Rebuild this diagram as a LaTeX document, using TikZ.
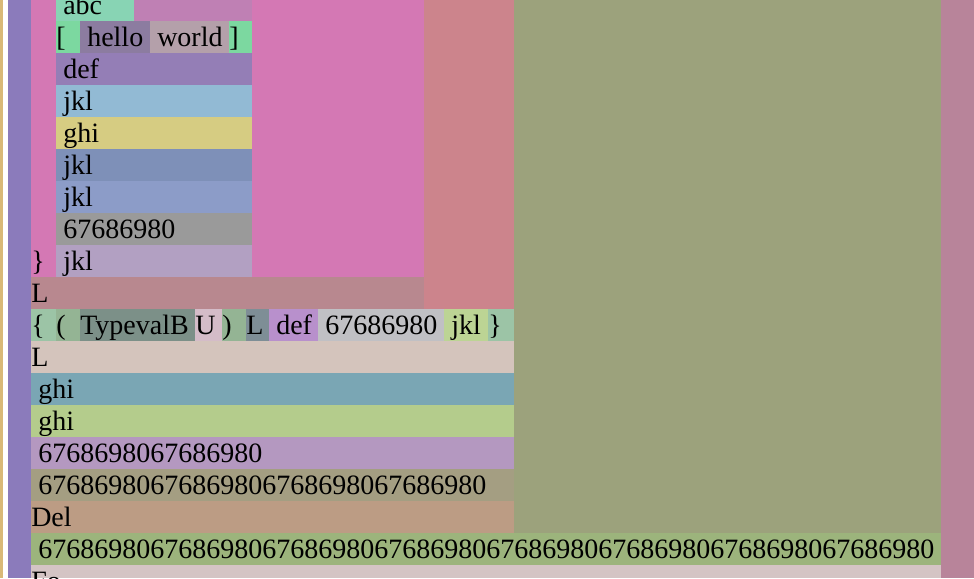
\documentclass[tikz,border=0pt]{standalone}
\usepackage{fontspec}
\setmainfont{Liberation Serif}
\usepackage{tikz}
\definecolor{Sand}{HTML}{D9B978}
\definecolor{Lilac}{HTML}{8B7BBB}
\definecolor{Pink}{HTML}{D478B4}
\definecolor{Rose}{HTML}{CC848C}
\definecolor{Olive}{HTML}{9CA27C}
\definecolor{Mauve}{HTML}{B8849A}
\definecolor{Mint}{HTML}{88D4B4}
\definecolor{Orchid}{HTML}{BF80B4}
\definecolor{Jade}{HTML}{7CD8A0}
\definecolor{Grape}{HTML}{8C7CA0}
\definecolor{Taupe}{HTML}{B4A0AA}
\definecolor{Violet}{HTML}{947EB6}
\definecolor{Sky}{HTML}{92BAD4}
\definecolor{Straw}{HTML}{D6CC82}
\definecolor{Steel}{HTML}{7E90B8}
\definecolor{Periwinkle}{HTML}{8C9CC8}
\definecolor{Ash}{HTML}{9A9A9A}
\definecolor{Wisteria}{HTML}{B2A0C2}
\definecolor{Dusk}{HTML}{B8888F}
\definecolor{Sage}{HTML}{9CC4A6}
\definecolor{Fern}{HTML}{94B494}
\definecolor{Slate}{HTML}{7C9088}
\definecolor{Blush}{HTML}{D4BCC8}
\definecolor{Pewter}{HTML}{7E8E96}
\definecolor{Amethyst}{HTML}{B890CC}
\definecolor{Silver}{HTML}{C0C0C4}
\definecolor{Lime}{HTML}{BCD494}
\definecolor{Linen}{HTML}{D4C4BC}
\definecolor{Teal}{HTML}{7AA6B4}
\definecolor{Pistachio}{HTML}{B4CC8C}
\definecolor{Heather}{HTML}{B498C0}
\definecolor{Khaki}{HTML}{A49E82}
\definecolor{Clay}{HTML}{BC9C84}
\definecolor{Moss}{HTML}{9CB47C}
\definecolor{Mist}{HTML}{D4C4C4}
\tikzset{txt/.style = {anchor = base west, inner sep = 0pt, font = \fontsize{21pt}{25pt}\selectfont}}

\begin{document}
\begin{tikzpicture}[x = 0.75pt, y = -0.75pt]
    \useasboundingbox (0, 0) rectangle (974, 578);
    \clip (0, 0) rectangle (974, 578);
    \fill [white] (0, 0) rectangle (974, 578);
    \fill [Sand] (0, 0) rectangle (3, 578);
    \fill [Lilac] (8, 0) rectangle (31, 578);
    \fill [Pink] (31, 0) rectangle (424, 277);
    \fill [Rose] (424, 0) rectangle (514, 309);
    \fill [Olive] (514, 0) rectangle (941, 533);
    \fill [Mauve] (941, 0) rectangle (974, 578);
    \foreach \a\b\c\d\col in {56/0/134/21/Mint, 134/0/252/21/Orchid, 56/21/252/53/Jade, 80/21/150/53/Grape, 150/21/229/53/Taupe,
        56/53/252/85/Violet, 56/85/252/117/Sky, 56/117/252/149/Straw, 56/149/252/181/Steel, 56/181/252/213/Periwinkle,
        56/213/252/245/Ash, 56/245/252/277/Wisteria, 31/277/424/309/Dusk,
        31/309/514/341/Sage, 56/309/80/341/Fern, 80/309/195/341/Slate, 195/309/222/341/Blush, 222/309/246/341/Fern,
        246/309/269/341/Pewter, 269/309/318/341/Amethyst, 318/309/444/341/Silver, 444/309/488/341/Lime,
        31/341/514/373/Linen, 31/373/514/405/Teal, 31/405/514/437/Pistachio, 31/437/514/469/Heather,
        31/469/514/501/Khaki, 31/501/514/533/Clay, 31/533/941/565/Moss, 31/565/941/578/Mist} {
        \fill [\col] (\a, \b) rectangle (\c, \d);
    }
    \foreach \n\x\y\t in {abc/63/-11/abc, lbr/56/21/[, hello/87/21/hello, world/157/21/world, rbr/229/21/],
        def1/63/53/def, jkl1/63/85/jkl, ghi1/63/117/ghi, jkl2/63/149/jkl, jkl3/63/181/jkl, num1/63/213/67686980,
        rbrace1/31/245/\}, jkl4/63/245/jkl, L1/31/277/L,
        lbrace/31/309/\{, lpar/56/309/(, typ/80/309/TypevalB, U/195/309/U, rpar/222/309/), L2/246/309/L,
        def2/276/309/def, num2/325/309/67686980, jkl5/451/309/jkl, rbrace2/488/309/\},
        L3/31/341/L, ghi2/38/373/ghi, ghi3/38/405/ghi, num3/38/437/6768698067686980,
        num4/38/469/67686980676869806768698067686980, del/31/501/Del,
        num5/38/533/6768698067686980676869806768698067686980676869806768698067686980, fo/31/565/Fo} {
        \node [txt] (\n) at (\x, \y + 25.3) {\t};
    }
\end{tikzpicture}
\end{document}
